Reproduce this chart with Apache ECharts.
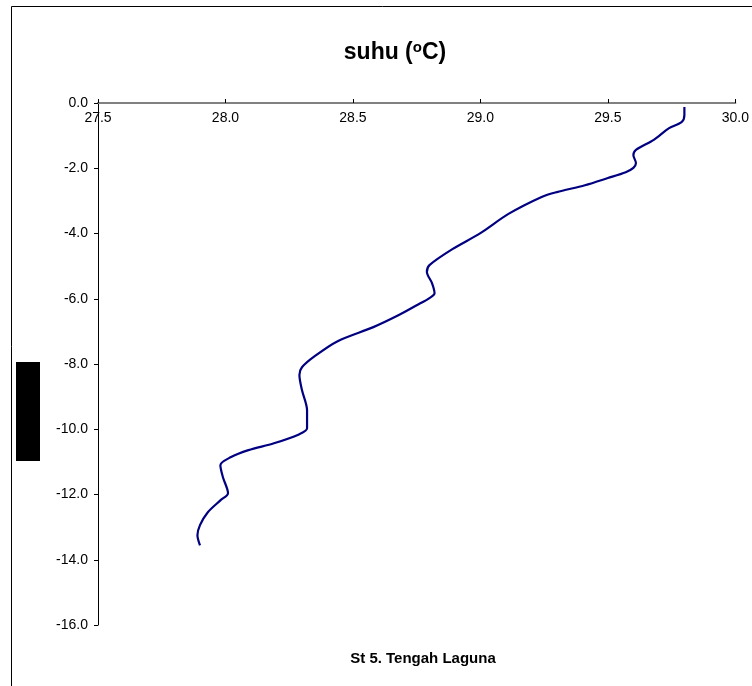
<!DOCTYPE html>
<html>
<head>
<meta charset="utf-8">
<script src="https://cdn.jsdelivr.net/npm/echarts@6/dist/echarts.min.js"></script>
<style>html,body{margin:0;padding:0;background:#fff;}#c{width:752px;height:686px;}</style>
</head>
<body>
<div id="c"></div>
<script>
// Temperature (°C) vs depth (m)
const suhu = [29.80, 29.80, 29.79, 29.74, 29.68, 29.61, 29.60, 29.61, 29.60, 29.57, 29.50, 29.41, 29.30, 29.24, 29.11, 29.00, 28.89, 28.80, 28.79, 28.81, 28.82, 28.80, 28.75, 28.68, 28.58, 28.44, 28.35, 28.30, 28.29, 28.30, 28.32, 28.32, 28.29, 28.19, 28.09, 28.02, 27.98, 27.99, 28.01, 27.98, 27.93, 27.90, 27.89, 27.90];
const depth = [-0.12, -0.37, -0.58, -0.77, -1.13, -1.44, -1.60, -1.84, -1.99, -2.12, -2.30, -2.52, -2.73, -2.88, -3.40, -3.99, -4.48, -4.97, -5.18, -5.52, -5.83, -5.98, -6.20, -6.50, -6.87, -7.30, -7.76, -8.10, -8.34, -8.80, -9.42, -9.97, -10.15, -10.43, -10.64, -10.86, -11.10, -11.47, -11.96, -12.18, -12.55, -12.94, -13.25, -13.56];
const titleText = 'suhu (';
const stationText = 'St 5. Tengah Laguna';

const chart = echarts.init(document.getElementById('c'), null, {renderer: 'canvas'});
const font = 'Liberation Sans, Arial, sans-serif';
chart.setOption({
  animation: false,
  backgroundColor: '#fff',
  title: [{
    text: titleText + '{sup|o}C)',
    left: 390, top: 48, textAlign: 'center', textVerticalAlign: 'middle',
    textStyle: {fontFamily: font, fontWeight: 'bold', fontSize: 23, lineHeight: 26, color: '#000',
      rich: {sup: {fontFamily: font, fontWeight: 'bold', fontSize: 15, lineHeight: 8, color: '#000', verticalAlign: 'top'}}}
  }, {
    text: stationText,
    left: 418, top: 654, textAlign: 'center', textVerticalAlign: 'middle',
    textStyle: {fontFamily: font, fontWeight: 'bold', fontSize: 15, color: '#000'}
  }],
  graphic: [
    {type: 'rect', shape: {x: 11.5, y: 6.5, width: 800, height: 720}, style: {fill: 'none', stroke: '#000', lineWidth: 1}, z: 0},
    {type: 'rect', shape: {x: 16, y: 362, width: 24, height: 99}, style: {fill: '#000'}, z: 10}
  ],
  grid: {left: 98, top: 103, width: 641, height: 522, containLabel: false},
  xAxis: {
    type: 'value', position: 'top', min: 27.5, max: 30.0, interval: 0.5,
    axisLine: {show: true, lineStyle: {color: '#808080', width: 2}},
    axisTick: {show: true, inside: false, length: 4, lineStyle: {color: '#000'}},
    axisLabel: {inside: true, margin: 8, fontFamily: font, fontSize: 14, color: '#000',
      formatter: v => v.toFixed(1)},
    splitLine: {show: false}
  },
  yAxis: {
    type: 'value', min: -16, max: 0, interval: 2,
    axisLine: {show: true, lineStyle: {color: '#000', width: 1}},
    axisTick: {show: true, length: 4, lineStyle: {color: '#000'}},
    axisLabel: {margin: 10, fontFamily: font, fontSize: 14, color: '#000',
      formatter: v => v.toFixed(1)},
    splitLine: {show: false}
  },
  series: [{
    type: 'line', smooth: 0.3, showSymbol: false, symbol: 'none',
    lineStyle: {color: '#000080', width: 2.2},
    data: suhu.map((s, i) => [s, depth[i]])
  }]
});
</script>
</body>
</html>
